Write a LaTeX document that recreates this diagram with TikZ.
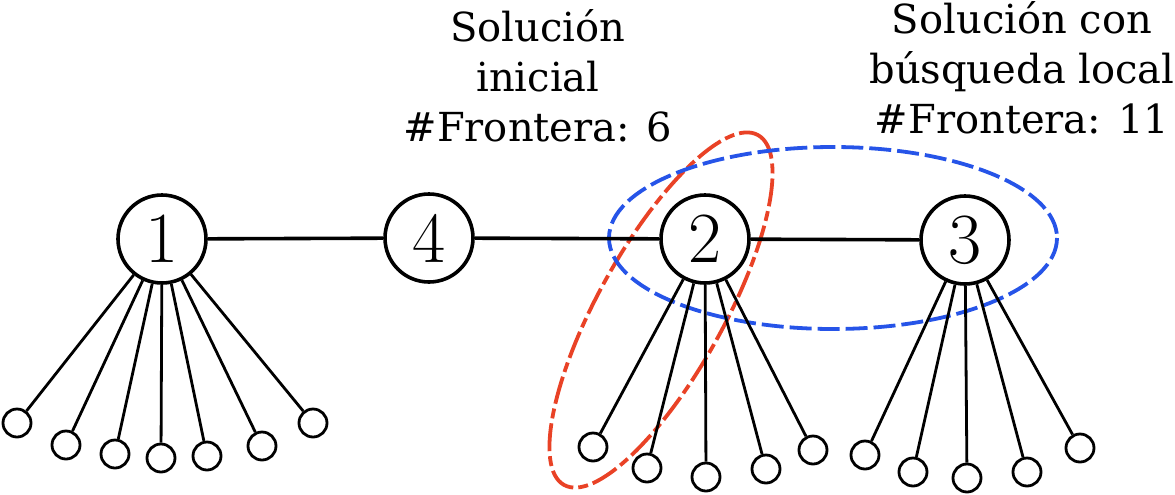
\documentclass[tikz,border=0pt]{standalone}
\usepackage{fontspec}
\newfontfamily\labelfont{DejaVu Serif}
\definecolor{ellred}{RGB}{233,66,38}
\definecolor{ellblue}{RGB}{38,84,232}
\begin{document}
\begin{tikzpicture}[x=0.5pt,y=-0.5pt,
  big/.style={circle,draw,line width=1.8pt,minimum size=44pt,inner sep=0pt,fill=white,font=\fontsize{36}{36}\selectfont},
  leaf/.style={circle,draw,line width=1.4pt,minimum size=14pt,inner sep=0pt,fill=white},
  mainedge/.style={line width=1.8pt},
  leafedge/.style={line width=1.4pt},
  redell/.style={draw=ellred,line width=1.9pt,dash pattern=on 14pt off 2.5pt on 5pt off 2.5pt},
  blueell/.style={draw=ellblue,line width=1.9pt,dash pattern=on 11pt off 3pt},
  lab/.style={font=\labelfont\fontsize{20}{25}\selectfont,align=center,inner sep=0pt}]
\useasboundingbox (0,0) rectangle (1175,494);

% ellipses
\draw[redell, rotate around={61:(661,310)}] (661,310) ellipse [x radius=200, y radius=63];
\draw[blueell] (833,238) ellipse [x radius=224, y radius=91];

% main nodes
\node[big] (n1) at (162,239) {1};
\node[big] (n4) at (429,238) {4};
\node[big] (n2) at (705,239) {2};
\node[big] (n3) at (965,240) {3};

% leaves of 1
\node[leaf] (a1) at (17,423) {};
\node[leaf] (a2) at (66,445) {};
\node[leaf] (a3) at (115,454) {};
\node[leaf] (a4) at (161,458) {};
\node[leaf] (a5) at (207,456) {};
\node[leaf] (a6) at (262,446) {};
\node[leaf] (a7) at (313,423) {};
% leaves of 2
\node[leaf] (b1) at (593,447) {};
\node[leaf] (b2) at (647,468) {};
\node[leaf] (b3) at (706,477) {};
\node[leaf] (b4) at (766,469) {};
\node[leaf] (b5) at (813,450) {};
% leaves of 3
\node[leaf] (c1) at (865,455) {};
\node[leaf] (c2) at (913,472) {};
\node[leaf] (c3) at (967,478) {};
\node[leaf] (c4) at (1027,472) {};
\node[leaf] (c5) at (1080,448) {};

% edges
\draw[mainedge] (n1) -- (n4);
\draw[mainedge] (n4) -- (n2);
\draw[mainedge] (n2) -- (n3);
\foreach \l in {a1,a2,a3,a4,a5,a6,a7} \draw[leafedge] (n1) -- (\l);
\foreach \l in {b1,b2,b3,b4,b5} \draw[leafedge] (n2) -- (\l);
\foreach \l in {c1,c2,c3,c4,c5} \draw[leafedge] (n3) -- (\l);

% labels
\node[lab] (t1) at (538,76) {Solución\\inicial\\\#Frontera: 6};
\node[lab] (t2) at (1022,68) {Solución con\\búsqueda local\\\#Frontera: 11};
\end{tikzpicture}
\end{document}
